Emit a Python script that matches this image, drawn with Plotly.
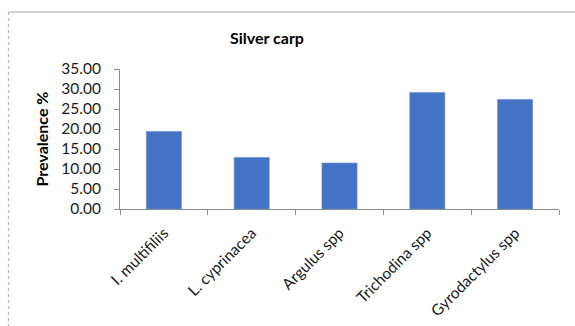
import plotly.graph_objects as go

# Prevalence (%) of each parasite found in silver carp
parasites = ["I. multifiliis", "L. cyprinacea", "Argulus spp", "Trichodina spp", "Gyrodactylus spp"]
prevalence = [19.4, 12.9, 11.5, 29.1, 27.4]
y_ticks = [0, 5, 10, 15, 20, 25, 30, 35]

W, H = 575, 326
ML, MR, MT, MB = 120, 16, 69, 117
PW, PH = W - ML - MR, H - MT - MB

FONT = "Lato, 'Open Sans', sans-serif"
AXIS_GREY = "#8c8c8c"
TEXT = "#1a1a1a"

fig = go.Figure(
    go.Bar(
        x=parasites,
        y=prevalence,
        marker=dict(color="#4472C4", line=dict(color="#6a8fd4", width=0.6)),
        width=0.4,
    )
)


def px_to_paper_x(px):
    return (px - ML) / PW


def px_to_paper_y(py):
    return (H - MB - py) / PH


# Chart area frame: top and left edges
fig.add_shape(type="line", xref="paper", yref="paper",
              x0=px_to_paper_x(8.5), x1=px_to_paper_x(600),
              y0=px_to_paper_y(12), y1=px_to_paper_y(12),
              line=dict(color="#a6a6a6", width=1.2))
fig.add_shape(type="line", xref="paper", yref="paper",
              x0=px_to_paper_x(8.5), x1=px_to_paper_x(8.5),
              y0=px_to_paper_y(12), y1=px_to_paper_y(340),
              line=dict(color="#b5b5b5", width=1.2, dash="dot"))

fig.update_layout(
    width=W,
    height=H,
    margin=dict(l=ML, r=MR, t=MT, b=MB, autoexpand=False),
    paper_bgcolor="white",
    plot_bgcolor="white",
    showlegend=False,
    font=dict(family=FONT, color=TEXT),
    title=dict(
        text="<b>Silver carp</b>",
        x=267 / W,
        xanchor="center",
        y=1 - 38 / H,
        yanchor="middle",
        font=dict(size=16, family=FONT, color="#000000"),
    ),
    xaxis=dict(
        automargin=False,
        showline=True,
        linecolor=AXIS_GREY,
        linewidth=1,
        ticks="outside",
        tickson="boundaries",
        ticklen=5,
        tickcolor=AXIS_GREY,
        tickangle=-45,
        ticklabelstandoff=8,
        tickfont=dict(size=15.5, family=FONT, color=TEXT),
        showgrid=False,
    ),
    yaxis=dict(
        automargin=False,
        range=[0, 35],
        tickvals=y_ticks,
        ticktext=[f"{v:.2f}" for v in y_ticks],
        showline=True,
        linecolor=AXIS_GREY,
        linewidth=1,
        ticks="outside",
        ticklen=5,
        tickcolor=AXIS_GREY,
        ticklabelstandoff=10,
        tickfont=dict(size=15.5, family=FONT, color=TEXT),
        showgrid=False,
        zeroline=False,
        title=dict(text="<b>Prevalence %</b>", font=dict(size=16, family=FONT, color="#000000"),
                   standoff=8),
    ),
)

fig.write_html("out.html")
